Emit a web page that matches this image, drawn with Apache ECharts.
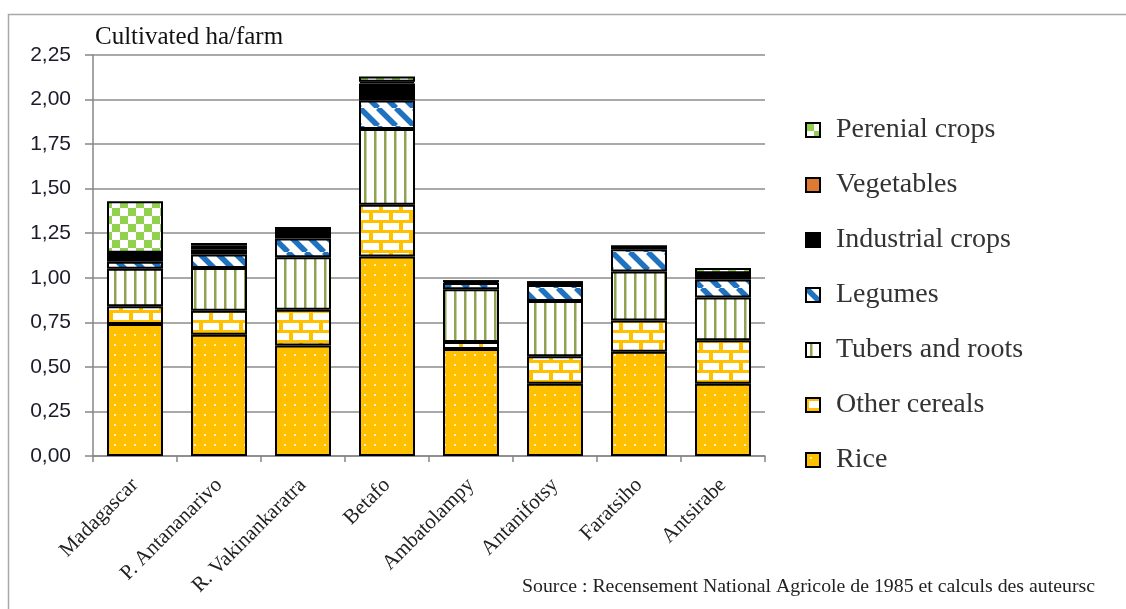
<!DOCTYPE html>
<html>
<head>
<meta charset="utf-8">
<script src="https://cdn.jsdelivr.net/npm/echarts@6/dist/echarts.min.js"></script>
<style>
  html, body { margin: 0; padding: 0; background: #ffffff; }
  #chart { width: 1126px; height: 609px; }
</style>
</head>
<body>
<div id="chart"></div>
<script>
// Cultivated area per farm (ha), by crop group
const categories = ['Madagascar', 'P. Antananarivo', 'R. Vakinankaratra', 'Betafo',
                    'Ambatolampy', 'Antanifotsy', 'Faratsiho', 'Antsirabe'];
const rice         = [0.74, 0.68,  0.62,  1.12,  0.60,  0.405, 0.585, 0.405];
const otherCereals = [0.10, 0.135, 0.20,  0.29,  0.04,  0.155, 0.175, 0.245];
const tubers       = [0.21, 0.24,  0.295, 0.425, 0.295, 0.31,  0.275, 0.24];
const legumes      = [0.04, 0.075, 0.105, 0.16,  0.035, 0.09,  0.125, 0.10];
const industrial   = [0.05, 0.03,  0.06,  0.095, 0.01,  0.015, 0.015, 0.035];
const vegetables   = [0,    0.02,  0,     0.01,  0,     0,     0,     0];
const perennial    = [0.29, 0.015, 0,     0.03,  0,     0,     0,     0.03];

const seriesNames = ['Rice', 'Other cereals', 'Tubers and roots', 'Legumes',
                     'Industrial crops', 'Vegetables', 'Perenial crops'];
const seriesValues = [rice, otherCereals, tubers, legumes, industrial, vegetables, perennial];

const yMin = 0, yMax = 2.25, yStep = 0.25;
const axisTitle = 'Cultivated ha/farm';
const sourceNote = 'Source : Recensement National Agricole de 1985 et calculs des auteursc';

// Repeating fill tiles
function tile(w, h, draw) {
  const c = document.createElement('canvas');
  c.width = w; c.height = h;
  draw(c.getContext('2d'), w, h);
  return { image: c, repeat: 'repeat' };
}
const GOLD = '#FFC000';
const fills = [
  // rice: gold with small white dots
  tile(10, 10, (g) => {
    g.fillStyle = GOLD; g.fillRect(0, 0, 10, 10);
    g.fillStyle = 'rgba(255,255,255,0.75)'; g.fillRect(4, 4, 2, 2);
  }),
  // other cereals: white bricks, gold mortar
  tile(20, 20, (g) => {
    g.fillStyle = GOLD; g.fillRect(0, 0, 20, 20);
    g.fillStyle = '#ffffff';
    g.fillRect(3, 3, 16, 7);
    g.fillRect(13, 13, 16, 7); g.fillRect(-7, 13, 16, 7);
  }),
  // tubers: olive vertical stripes on white
  tile(10, 10, (g) => {
    g.fillStyle = '#ffffff'; g.fillRect(0, 0, 10, 10);
    g.fillStyle = '#8FA352'; g.fillRect(4, 0, 2.5, 10);
  }),
  // legumes: blue diagonal stripes on white
  tile(18, 18, (g) => {
    g.fillStyle = '#ffffff'; g.fillRect(0, 0, 18, 18);
    g.strokeStyle = '#1F72C0'; g.lineWidth = 5.5;
    [-18, 0, 18].forEach((o) => {
      g.beginPath(); g.moveTo(o, 0); g.lineTo(o + 18, 18); g.stroke();
    });
  }),
  '#000000',
  '#DE7A32',
  // perennial: green checkerboard
  tile(16, 16, (g) => {
    g.fillStyle = '#ffffff'; g.fillRect(0, 0, 16, 16);
    g.fillStyle = '#92D050'; g.fillRect(0, 0, 8, 8); g.fillRect(8, 8, 8, 8);
  })
];

const chart = echarts.init(document.getElementById('chart'), null, { renderer: 'canvas' });

// horizontal stretch for the source line
const SRC_FONT = '18px "Liberation Serif"';
const mctx = document.createElement('canvas').getContext('2d');
mctx.font = SRC_FONT;
const srcScale = 573 / mctx.measureText(sourceNote).width;

const option = {
  animation: false,
  backgroundColor: '#ffffff',
  title: {
    text: axisTitle,
    left: 90, top: 20,
    textStyle: { fontFamily: 'Liberation Serif', fontSize: 25, fontWeight: 'normal', color: '#111' }
  },
  grid: { left: 93, right: 361, top: 55, bottom: 153, containLabel: false },
  legend: {
    orient: 'vertical',
    left: 800, top: 111,
    itemGap: 27,
    itemWidth: 14, itemHeight: 14,
    icon: 'rect',
    selectedMode: false,
    data: seriesNames.slice().reverse(),
    textStyle: { fontFamily: 'Liberation Serif', fontSize: 28, color: '#333', padding: [0, 0, 0, 11] }
  },
  xAxis: {
    type: 'category',
    data: categories,
    boundaryGap: true,
    axisLine: { lineStyle: { color: '#868686', width: 1.5 } },
    axisTick: { show: true, length: 6, lineStyle: { color: '#868686', width: 1.5 } },
    axisLabel: {
      rotate: 45, margin: 26, interval: 0,
      fontFamily: 'Liberation Serif', fontSize: 21, color: '#222'
    }
  },
  yAxis: {
    type: 'value',
    min: yMin, max: yMax, interval: yStep,
    axisLine: { show: true, lineStyle: { color: '#868686', width: 1.5 } },
    axisTick: { show: true, length: 8, lineStyle: { color: '#868686', width: 1.5 } },
    splitLine: { lineStyle: { color: '#8c8c8c', width: 1.5 } },
    axisLabel: {
      margin: 22,
      fontFamily: 'Liberation Sans', fontSize: 21, color: '#1a1a2a',
      formatter: (v) => v.toFixed(2).replace('.', ',')
    }
  },
  series: seriesNames.map((name, i) => ({
    name,
    type: 'bar',
    stack: 'area',
    barWidth: 56,
    data: seriesValues[i],
    itemStyle: { color: fills[i], borderColor: '#000000', borderWidth: 2 },
    emphasis: { disabled: true }
  })),
  graphic: [
    {
      type: 'rect', silent: true,
      shape: { x: 8.5, y: 14.5, width: 1200, height: 620 },
      style: { fill: 'none', stroke: '#a8a8a8', lineWidth: 1.5 }
    },
    {
      type: 'text', silent: true,
      x: 522, y: 587, scaleX: srcScale,
      style: {
        text: sourceNote, x: 0, y: 0,
        font: SRC_FONT, fill: '#222',
        textAlign: 'left', textVerticalAlign: 'middle'
      }
    }
  ]
};
chart.setOption(option);
</script>
</body>
</html>
